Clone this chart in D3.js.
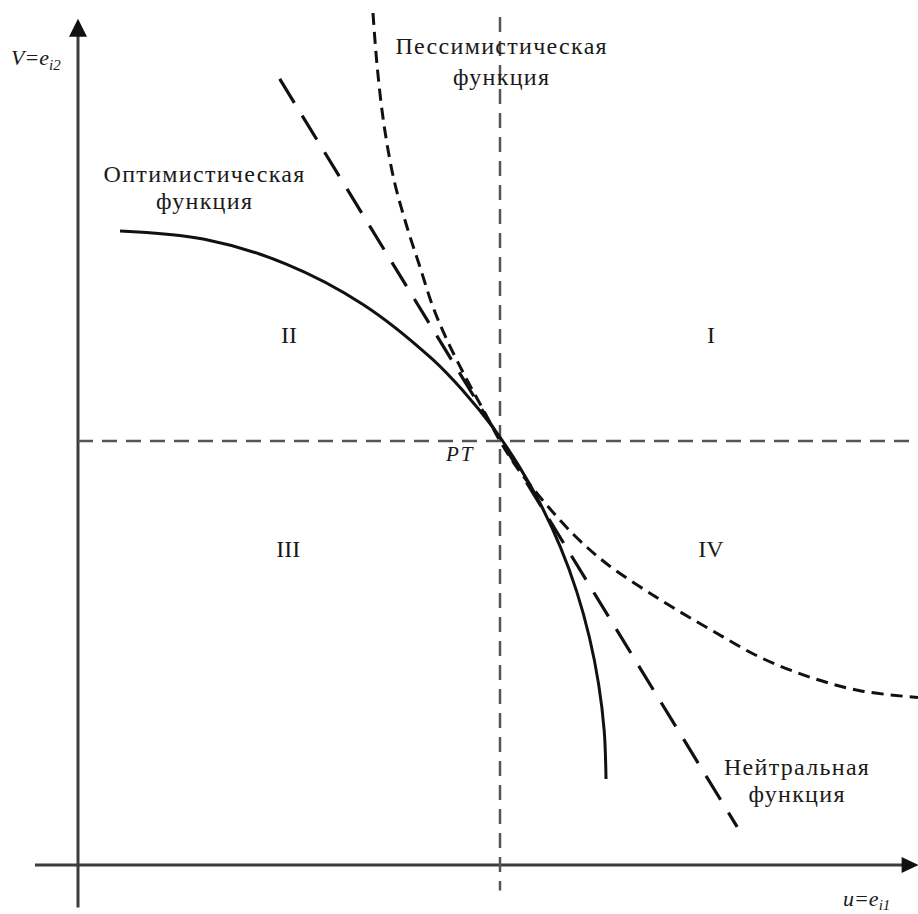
<!DOCTYPE html>
<html>
<head>
<meta charset="utf-8">
<script src="https://cdn.jsdelivr.net/npm/d3@7"></script>
<style>
  html, body { margin: 0; padding: 0; background: #fff; }
  svg { display: block; }
  text { font-family: "Liberation Serif", "Times New Roman", serif; fill: #1a1a1a; }
</style>
</head>
<body>
<script>
// ---- data (units: PT is at (5,5)) ----
const optimisticX = [0.498, 1.498, 2.467, 3.377, 4.199, 4.569, 4.909, 5.214, 5.485, 5.717, 5.909, 6.059, 6.168, 6.235, 6.256];
const optimisticY = [7.476, 7.379, 7.087, 6.611, 5.965, 5.584, 5.169, 4.721, 4.245, 3.745, 3.224, 2.686, 2.136, 1.578, 1.014];

const pessimisticX = [3.495, 3.543, 3.626, 3.744, 3.898, 4.052, 4.206, 4.372, 4.609, 4.810, 5.000, 5.213, 5.533, 5.889, 6.268, 6.896, 7.488, 8.081, 8.673, 9.265, 9.953];
const pessimisticY = [10.047, 9.434, 8.726, 8.078, 7.524, 7.052, 6.580, 6.191, 5.719, 5.354, 5.000, 4.670, 4.269, 3.880, 3.550, 3.130, 2.780, 2.450, 2.215, 2.055, 1.975];

const neutralX = [2.39, 7.81];
const neutralY = [9.27, 0.45];

const ptValue = [5, 5];
const quadrantLabels = ["I", "II", "III", "IV"];
const curveLabels = {
  pess: ["Пессимистическая", "функция"],
  opt: ["Оптимистическая", "функция"],
  neut: ["Нейтральная", "функция"]
};
const axisLabelY = ["V=e", "i2"];
const axisLabelX = ["u=e", "i1"];
const ptLabel = "PT";

// ---- layout ----
const W = 918, H = 914;
const svg = d3.select("body").append("svg").attr("width", W).attr("height", H);
const x = d3.scaleLinear().domain([0, 10]).range([78, 922]);
const y = d3.scaleLinear().domain([0, 10]).range([865, 17]);

const zip = (xs, ys) => xs.map((v, i) => [v, ys[i]]);
const line = d3.line().x(d => x(d[0])).y(d => y(d[1])).curve(d3.curveCatmullRom.alpha(0.5));

// axes
const axisColor = "#3c3c3c";
svg.append("line").attr("x1", x(0)).attr("y1", y(-0.5)).attr("x2", x(0)).attr("y2", y(9.8))
  .attr("stroke", axisColor).attr("stroke-width", 3);
svg.append("path")
  .attr("d", `M${x(0)},${y(9.98)} L${x(0) - 9},${y(9.98) + 18} L${x(0) + 9},${y(9.98) + 18} Z`)
  .attr("fill", "#111");
svg.append("line").attr("x1", x(-0.51)).attr("y1", y(0)).attr("x2", x(9.8)).attr("y2", y(0))
  .attr("stroke", axisColor).attr("stroke-width", 3);
svg.append("path")
  .attr("d", `M${x(9.96)},${y(0)} L${x(9.96) - 17},${y(0) - 8} L${x(9.96) - 17},${y(0) + 8} Z`)
  .attr("fill", "#111");

// reference dashed lines through PT
svg.append("line").attr("x1", x(ptValue[0])).attr("y1", y(10.0)).attr("x2", x(ptValue[0])).attr("y2", y(-0.3))
  .attr("stroke", "#555").attr("stroke-width", 2.5).attr("stroke-dasharray", "15,9");
svg.append("line").attr("x1", x(0)).attr("y1", y(ptValue[1])).attr("x2", x(10)).attr("y2", y(ptValue[1]))
  .attr("stroke", "#555").attr("stroke-width", 2.5).attr("stroke-dasharray", "15,9");

// curves
svg.append("path").attr("d", line(zip(optimisticX, optimisticY)))
  .attr("fill", "none").attr("stroke", "#111").attr("stroke-width", 3);
svg.append("path").attr("d", line(zip(neutralX, neutralY)))
  .attr("fill", "none").attr("stroke", "#111").attr("stroke-width", 3.2).attr("stroke-dasharray", "28,15");
svg.append("path").attr("d", line(zip(pessimisticX, pessimisticY)))
  .attr("fill", "none").attr("stroke", "#111").attr("stroke-width", 3).attr("stroke-dasharray", "12,7");

// quadrant labels
const quadPos = [[7.5, 6.15], [2.5, 6.15], [2.49, 3.63], [7.5, 3.63]];
quadrantLabels.forEach((t, i) => {
  svg.append("text").attr("x", x(quadPos[i][0])).attr("y", y(quadPos[i][1]))
    .attr("text-anchor", "middle").attr("font-size", 24).text(t);
});

// curve labels
function twoLine(lines, cx, y1, y2) {
  [lines[0], lines[1]].forEach((s, i) => {
    svg.append("text").attr("x", cx).attr("y", i === 0 ? y1 : y2).attr("text-anchor", "middle")
      .attr("font-size", 24).attr("letter-spacing", 1.3).text(s);
  });
}
twoLine(curveLabels.pess, x(5.02), y(9.56), y(9.2));
twoLine(curveLabels.opt, x(1.5), y(8.06), y(7.74));
twoLine(curveLabels.neut, x(8.52), y(1.06), y(0.74));

// PT
svg.append("text").attr("x", x(4.36)).attr("y", y(4.76)).attr("font-size", 21)
  .attr("font-style", "italic").attr("letter-spacing", 2).text(ptLabel);

// axis labels
const ty = svg.append("text").attr("x", 11).attr("y", y(9.43)).attr("font-size", 22).attr("font-style", "italic");
ty.append("tspan").text(axisLabelY[0]);
ty.append("tspan").attr("font-size", 15).attr("dy", 5).text(axisLabelY[1]);
const tx = svg.append("text").attr("x", 843).attr("y", y(-0.48)).attr("font-size", 22).attr("font-style", "italic");
tx.append("tspan").text(axisLabelX[0]);
tx.append("tspan").attr("font-size", 15).attr("dy", 4).text(axisLabelX[1]);
</script>
</body>
</html>
